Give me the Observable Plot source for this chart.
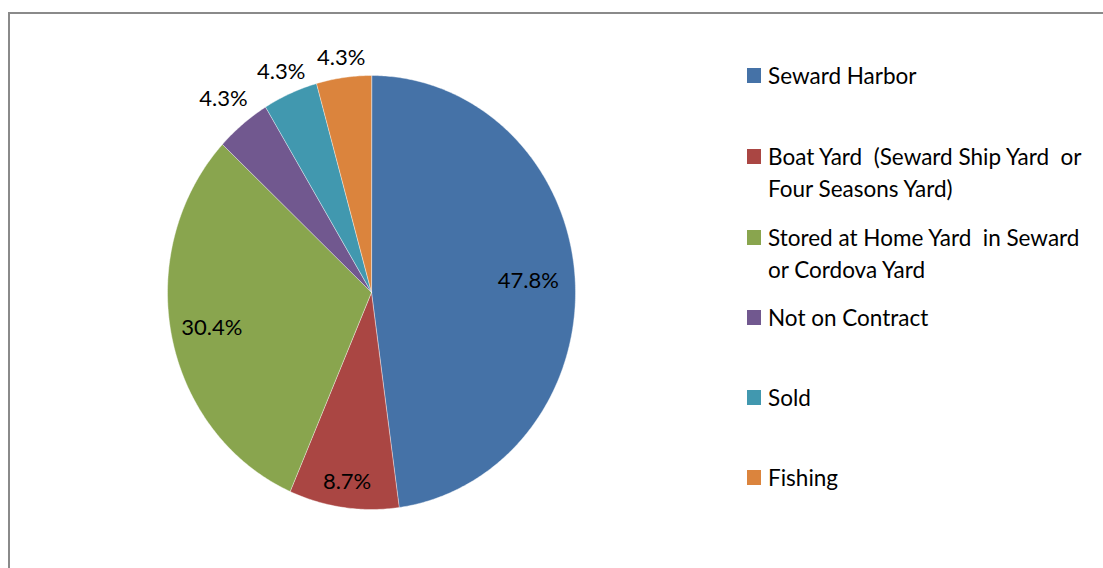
<!DOCTYPE html>
<html>
<head>
<meta charset="utf-8">
<script src="https://cdn.jsdelivr.net/npm/d3@7"></script>
<script src="https://cdn.jsdelivr.net/npm/@observablehq/plot@0.6"></script>
<style>
  html, body { margin: 0; padding: 0; background: #fff; overflow: hidden; }
  #wrap { position: relative; width: 1103px; height: 568px; overflow: hidden; font-family: Lato, "Open Sans", sans-serif; }
  #frame { position: absolute; left: 8px; top: 12px; width: 1200px; height: 700px; border-left: 2px solid #8a8a8a; border-top: 2px solid #8a8a8a; box-sizing: border-box; }
  #chart { position: absolute; left: 0; top: 0; }
  .item { position: absolute; left: 747px; font-size: 22.5px; line-height: 32px; color: #000; white-space: nowrap; }
  .sw { position: absolute; left: 0; width: 14px; height: 15px; }
  .lbl { position: absolute; left: 21px; top: 0; }
</style>
</head>
<body>
<div id="wrap">
  <div id="frame"></div>
  <div id="chart"></div>
  <div id="legend"></div>
</div>
<script>
// ---- data ----
const categories = [
  "Seward Harbor",
  "Boat Yard (Seward Ship Yard or Four Seasons Yard)",
  "Stored at Home Yard in Seward or Cordova Yard",
  "Not on Contract",
  "Sold",
  "Fishing"
];
const counts = [11, 2, 7, 1, 1, 1];
const percentLabels = ["47.8%", "8.7%", "30.4%", "4.3%", "4.3%", "4.3%"];
const colors = ["#4572A7", "#AA4643", "#89A54E", "#71588F", "#4198AF", "#DB843D"];
const legendLines = [
  ["Seward Harbor"],
  ["Boat Yard  (Seward Ship Yard  or", "Four Seasons Yard)"],
  ["Stored at Home Yard  in Seward", "or Cordova Yard"],
  ["Not on Contract"],
  ["Sold"],
  ["Fishing"]
];
// layout options (not data)
const labelRadius = [0.77, 0.88, 0.80, 1.15, 1.11, 1.09];
const legendTops = [60, 141, 222, 302, 382, 462];

// ---- geometry from d3.pie ----
const pie = d3.pie().sort(null).value(d => d)(counts);
const polys = [];
pie.forEach((s, i) => {
  const name = categories[i];
  polys.push({name, x: 0, y: 0});
  const n = Math.max(8, Math.ceil((s.endAngle - s.startAngle) / 0.01));
  for (let k = 0; k <= n; k++) {
    const a = s.startAngle + (s.endAngle - s.startAngle) * k / n;
    polys.push({name, x: Math.sin(a), y: Math.cos(a)});
  }
});
const labels = pie.map((s, i) => {
  const a = (s.startAngle + s.endAngle) / 2;
  return {text: percentLabels[i], x: labelRadius[i] * Math.sin(a), y: labelRadius[i] * Math.cos(a)};
});

const plot = Plot.plot({
  width: 1103,
  height: 568,
  margin: 0,
  style: {background: "transparent", fontFamily: "Lato, 'Open Sans', sans-serif"},
  x: {domain: [-1, 1], range: [167, 575], axis: null},
  y: {domain: [-1, 1], range: [509, 75], axis: null},
  color: {domain: categories, range: colors},
  marks: [
    Plot.line(polys, {x: "x", y: "y", z: "name", fill: "name", stroke: "#ffffff", strokeWidth: 0.6, strokeOpacity: 0.7, curve: "linear-closed"}),
    Plot.text(labels, {x: "x", y: "y", text: "text", fontSize: 22, fill: "#000"})
  ]
});
document.getElementById("chart").appendChild(plot);

// ---- legend ----
const leg = document.getElementById("legend");
categories.forEach((c, i) => {
  const div = document.createElement("div");
  div.className = "item";
  div.style.top = legendTops[i] + "px";
  const sw = document.createElement("div");
  sw.className = "sw";
  sw.style.background = colors[i];
  sw.style.top = "8px";
  div.appendChild(sw);
  const lb = document.createElement("div");
  lb.className = "lbl";
  lb.innerHTML = legendLines[i].map(l => l.replace(/  /g, "&nbsp; ")).join("<br>");
  div.appendChild(lb);
  leg.appendChild(div);
});
</script>
</body>
</html>
